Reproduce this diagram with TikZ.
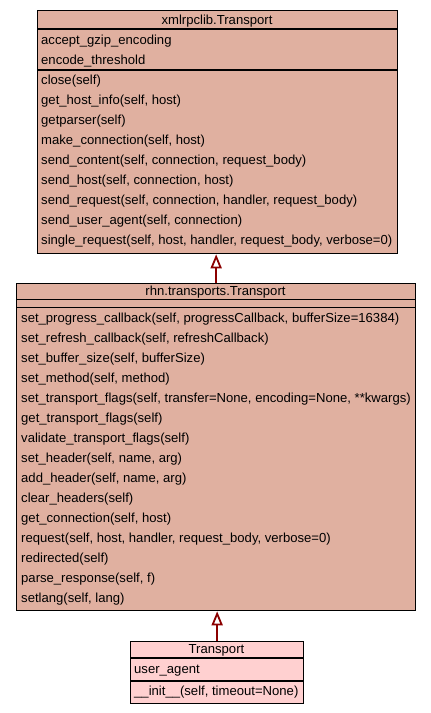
\documentclass[tikz,border=0pt]{standalone}
\usepackage{fontspec}
\setmainfont{Liberation Sans}
\usetikzlibrary{arrows.meta}
\definecolor{classfill}{RGB}{224,176,160}
\definecolor{leaffill}{RGB}{255,208,208}
\definecolor{inherit}{RGB}{139,0,0}
\begin{document}
\begin{tikzpicture}[x=1pt,y=-1pt,
  classbox/.style={draw=black, line width=1.3pt, fill=classfill, inner sep=0pt, anchor=north west},
  sepline/.style={draw=black, line width=1.3pt},
  member/.style={anchor=base west, inner sep=0pt, font=\fontsize{13.1}{15}\selectfont},
  classname/.style={anchor=base, inner sep=0pt, font=\fontsize{13.1}{15}\selectfont},
  generalizes/.style={draw=inherit, line width=1.8pt,
    -{Triangle[open, length=14pt, width=11pt, line width=1.8pt]}}]
\useasboundingbox (0,0) rectangle (431,713);

% xmlrpclib.Transport
\node[classbox, minimum width=360pt, minimum height=243pt] (xmlrpc) at (37,10) {};
\draw[sepline] (37,29) -- (397,29);
\draw[sepline] (37,70) -- (397,70);
\node[classname] (xmlrpc-name) at (217,24) {xmlrpclib.Transport};
\node[member] (xmlrpc-a1) at (41,44) {accept\_gzip\_encoding};
\node[member] (xmlrpc-a2) at (41,64) {encode\_threshold};
\foreach \m [count=\i] in {
  {close(self)},
  {get\_host\_info(self, host)},
  {getparser(self)},
  {make\_connection(self, host)},
  {send\_content(self, connection, request\_body)},
  {send\_host(self, connection, host)},
  {send\_request(self, connection, handler, request\_body)},
  {send\_user\_agent(self, connection)},
  {single\_request(self, host, handler, request\_body, verbose=0)}}
  \node[member] (xmlrpc-m\i) at (41,{64+20*\i}) {\m};

% rhn.transports.Transport
\node[classbox, minimum width=399pt, minimum height=327pt] (rhn) at (16,283) {};
\draw[sepline] (16,299.5) -- (415,299.5);
\draw[sepline] (16,307.5) -- (415,307.5);
\node[classname] (rhn-name) at (215.5,295.5) {rhn.transports.Transport};
\foreach \m [count=\i] in {
  {set\_progress\_callback(self, progressCallback, bufferSize=16384)},
  {set\_refresh\_callback(self, refreshCallback)},
  {set\_buffer\_size(self, bufferSize)},
  {set\_method(self, method)},
  {set\_transport\_flags(self, transfer=None, encoding=None, **kwargs)},
  {get\_transport\_flags(self)},
  {validate\_transport\_flags(self)},
  {set\_header(self, name, arg)},
  {add\_header(self, name, arg)},
  {clear\_headers(self)},
  {get\_connection(self, host)},
  {request(self, host, handler, request\_body, verbose=0)},
  {redirected(self)},
  {parse\_response(self, f)},
  {setlang(self, lang)}}
  \node[member] (rhn-m\i) at (21,{302.5+20*\i}) {\m};

% Transport
\node[classbox, fill=leaffill, minimum width=173pt, minimum height=62pt] (tr) at (130,641) {};
\draw[sepline] (130,658) -- (303,658);
\draw[sepline] (130,681) -- (303,681);
\node[classname] (tr-name) at (216.5,653.5) {Transport};
\node[member] (tr-a1) at (134,673.5) {user\_agent};
\node[member] (tr-m1) at (134,695) {\_\_init\_\_(self, timeout=None)};

% inheritance
\draw[generalizes] (rhn.north) -- (rhn.north |- xmlrpc.south);
\draw[generalizes] (tr.north) -- (tr.north |- rhn.south);
\end{tikzpicture}
\end{document}
